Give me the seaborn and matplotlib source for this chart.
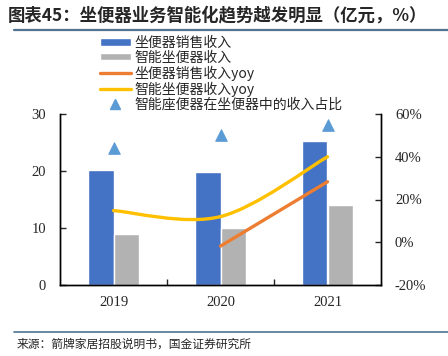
import matplotlib
matplotlib.use("Agg")
import matplotlib.pyplot as plt
import matplotlib.ticker as mticker
import numpy as np
import pandas as pd
import seaborn as sns
from matplotlib.lines import Line2D
from matplotlib.patches import PathPatch, Patch
from matplotlib.path import Path

# data
years = ["2019", "2020", "2021"]
toilet_rev = [20.2, 19.8, 25.3]        # 坐便器销售收入 (亿元)
smart_rev = [9.0, 10.0, 14.0]          # 智能坐便器收入 (亿元)
toilet_yoy = [np.nan, -1.8, 28.3]      # 坐便器销售收入yoy (%)
smart_yoy = [14.8, 12.0, 40.0]         # 智能坐便器收入yoy (%)
smart_share = [44.2, 50.3, 55.0]       # 智能座便器在坐便器中的收入占比 (%)

names = ["坐便器销售收入", "智能坐便器收入", "坐便器销售收入yoy",
         "智能坐便器收入yoy", "智能座便器在坐便器中的收入占比"]

BLUE, GREY, ORANGE, YELLOW, TRI = "#4472C4", "#B2B2B2", "#ED7D31", "#FFC000", "#5B9BD5"

sns.set_style("ticks")
plt.rcParams["font.family"] = ["Noto Sans CJK SC", "DejaVu Sans"]
SERIF = ["Liberation Serif", "DejaVu Serif"]

fig = plt.figure(figsize=(4.48, 3.56), dpi=100)
ax = fig.add_axes([60 / 448, 1 - 285 / 356, 321 / 448, 171 / 356])

bars = pd.DataFrame({
    "year": years * 2,
    "value": toilet_rev + smart_rev,
    "series": [names[0]] * 3 + [names[1]] * 3,
})
sns.barplot(data=bars, x="year", y="value", hue="series", palette=[BLUE, GREY],
            width=0.48, saturation=1, gap=0, ax=ax, legend=False)

ax.set_xlim(-0.5, 2.5)
ax.set_ylim(0, 30)
ax.set_yticks([0, 10, 20, 30])
ax.set_xlabel("")
ax.set_ylabel("")
ax.xaxis.set_minor_locator(mticker.FixedLocator([0.5, 1.5]))
ax.tick_params(axis="x", which="major", length=0, pad=8)
ax.tick_params(axis="x", which="minor", length=4, direction="in", width=1)
ax.tick_params(axis="y", length=4, direction="in", width=1, pad=10)
for lab in ax.get_xticklabels() + ax.get_yticklabels():
    lab.set_fontfamily(SERIF)
    lab.set_fontsize(10.5)

ax2 = ax.twinx()
ax2.set_ylim(-20, 60)
ax2.set_yticks([-20, 0, 20, 40, 60])
ax2.yaxis.set_major_formatter(mticker.FuncFormatter(lambda v, p: f"{v:.0f}%"))
ax2.tick_params(axis="y", length=4, direction="in", width=1, pad=10)
for lab in ax2.get_yticklabels():
    lab.set_fontfamily(SERIF)
    lab.set_fontsize(10.5)

for a in (ax, ax2):
    for side in ("left", "right", "bottom"):
        a.spines[side].set_color("black")
        a.spines[side].set_linewidth(1)
    a.spines["top"].set_visible(False)

xs = np.arange(len(years))

# orange yoy line (straight)
sns.lineplot(x=xs, y=toilet_yoy, color=ORANGE, linewidth=2.4, ax=ax2,
             solid_capstyle="round")

# yellow yoy line, smoothed like the office chart (bezier through the points)
fig.canvas.draw()
pts = ax2.transData.transform(np.column_stack([xs, smart_yoy]))
n = len(pts)
verts = [pts[0]]
codes = [Path.MOVETO]
for i in range(n - 1):
    p_prev = pts[max(i - 1, 0)]
    p0, p1 = pts[i], pts[i + 1]
    p_next = pts[min(i + 2, n - 1)]
    c1 = p0 + (p1 - p_prev) / 6
    c2 = p1 - (p_next - p0) / 6
    verts += [c1, c2, p1]
    codes += [Path.CURVE4] * 3
verts = ax2.transData.inverted().transform(np.array(verts))
ax2.add_patch(PathPatch(Path(verts, codes), facecolor="none", edgecolor=YELLOW,
                        linewidth=2.4, capstyle="round"))

# share markers
sns.scatterplot(x=xs, y=smart_share, marker="^", s=70, color=TRI,
                edgecolor=TRI, ax=ax2, legend=False, clip_on=False)

handles = [
    Patch(facecolor=BLUE),
    Patch(facecolor=GREY),
    Line2D([], [], color=ORANGE, linewidth=2.4),
    Line2D([], [], color=YELLOW, linewidth=2.4),
    Line2D([], [], color=TRI, marker="^", linestyle="none", markersize=7),
]
fig.legend(handles, names, loc="upper left", bbox_to_anchor=(100 / 448, 1 - 36 / 356),
           frameon=False, fontsize=10, labelspacing=0.05, handlelength=2.2,
           handleheight=0.45, handletextpad=0.3, borderaxespad=0, borderpad=0)

# title, rules and source
fig.text(8 / 448, 1 - 15 / 356, "图表45：坐便器业务智能化趋势越发明显（亿元，%）",
         fontsize=12.5, fontweight="bold", va="center", ha="left")
fig.add_artist(Line2D([14 / 448, 1], [1 - 30 / 356] * 2, color="#4F7391", linewidth=1.6))
fig.add_artist(Line2D([14 / 448, 1], [1 - 331.5 / 356] * 2, color="#4F7391", linewidth=1.2))
fig.text(17 / 448, 1 - 344 / 356, "来源：箭牌家居招股说明书，国金证券研究所",
         fontsize=8.5, va="center", ha="left")

fig.savefig("out.png", dpi=100)
